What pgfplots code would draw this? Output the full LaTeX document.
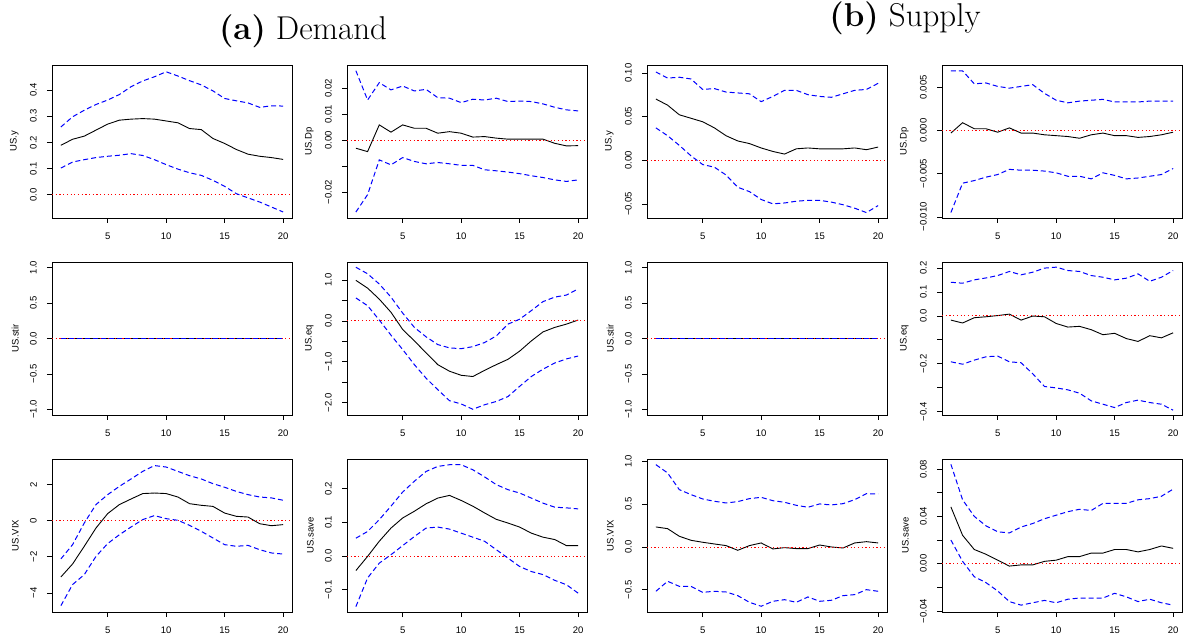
\documentclass[border=0pt]{standalone}
\usepackage{fontspec}
\usepackage{pgfplots}
\usepackage{pgfplotstable}
\pgfplotsset{compat=1.18}
\newfontfamily\arialfont{Liberation Sans}

\pgfplotstableread{
k irf lo up
1 0.189 0.102 0.259
2 0.212 0.125 0.298
3 0.224 0.134 0.323
4 0.247 0.142 0.345
5 0.270 0.147 0.362
6 0.285 0.151 0.383
7 0.289 0.157 0.413
8 0.291 0.150 0.435
9 0.289 0.134 0.451
10 0.282 0.115 0.470
11 0.275 0.098 0.454
12 0.253 0.084 0.436
13 0.249 0.074 0.420
14 0.215 0.055 0.397
15 0.196 0.032 0.368
16 0.173 0.004 0.359
17 0.155 -0.012 0.351
18 0.147 -0.028 0.334
19 0.142 -0.047 0.340
20 0.135 -0.066 0.339
}\tDemY

\pgfplotstableread{
k irf lo up
1 -0.0031 -0.0277 0.0268
2 -0.0044 -0.0210 0.0155
3 0.0059 -0.0076 0.0222
4 0.0031 -0.0095 0.0194
5 0.0059 -0.0067 0.0209
6 0.0046 -0.0082 0.0190
7 0.0046 -0.0091 0.0196
8 0.0027 -0.0086 0.0164
9 0.0033 -0.0091 0.0162
10 0.0027 -0.0097 0.0145
11 0.0012 -0.0097 0.0158
12 0.0014 -0.0114 0.0155
13 0.0008 -0.0118 0.0162
14 0.0004 -0.0123 0.0149
15 0.0004 -0.0129 0.0151
16 0.0004 -0.0137 0.0149
17 0.0004 -0.0144 0.0140
18 -0.0012 -0.0153 0.0127
19 -0.0022 -0.0159 0.0117
20 -0.0021 -0.0153 0.0113
}\tDemDp

\pgfplotstableread{
k irf lo up
1 0 0 0
2 0 0 0
3 0 0 0
4 0 0 0
5 0 0 0
6 0 0 0
7 0 0 0
8 0 0 0
9 0 0 0
10 0 0 0
11 0 0 0
12 0 0 0
13 0 0 0
14 0 0 0
15 0 0 0
16 0 0 0
17 0 0 0
18 0 0 0
19 0 0 0
20 0 0 0
}\tZero

\pgfplotstableread{
k irf lo up
1 0.99 0.56 1.31
2 0.80 0.37 1.15
3 0.53 0.02 0.90
4 0.21 -0.35 0.58
5 -0.21 -0.70 0.19
6 -0.49 -1.07 -0.16
7 -0.78 -1.40 -0.39
8 -1.07 -1.68 -0.58
9 -1.23 -1.95 -0.66
10 -1.33 -2.03 -0.68
11 -1.36 -2.16 -0.63
12 -1.21 -2.05 -0.53
13 -1.07 -1.97 -0.37
14 -0.94 -1.85 -0.08
15 -0.74 -1.60 0.04
16 -0.49 -1.36 0.25
17 -0.27 -1.18 0.47
18 -0.16 -1.03 0.58
19 -0.08 -0.93 0.63
20 0.02 -0.86 0.78
}\tDemEq

\pgfplotstableread{
k irf lo up
1 -3.12 -4.71 -2.12
2 -2.40 -3.54 -1.33
3 -1.42 -2.99 -0.13
4 -0.41 -1.98 0.89
5 0.39 -1.27 1.44
6 0.89 -0.78 1.90
7 1.20 -0.35 2.31
8 1.50 0.06 2.73
9 1.53 0.28 3.05
10 1.50 0.11 2.97
11 1.31 0.02 2.73
12 0.94 -0.26 2.49
13 0.85 -0.59 2.31
14 0.79 -0.96 2.05
15 0.42 -1.33 1.85
16 0.24 -1.42 1.62
17 0.20 -1.37 1.44
18 -0.17 -1.61 1.31
19 -0.28 -1.79 1.26
20 -0.22 -1.85 1.13
}\tDemVix

\pgfplotstableread{
k irf lo up
1 -0.043 -0.150 0.053
2 -0.001 -0.065 0.073
3 0.044 -0.021 0.108
4 0.083 0.004 0.148
5 0.113 0.031 0.190
6 0.133 0.058 0.222
7 0.155 0.083 0.251
8 0.172 0.086 0.266
9 0.180 0.080 0.271
10 0.165 0.068 0.271
11 0.148 0.056 0.256
12 0.128 0.044 0.235
13 0.109 0.019 0.212
14 0.098 -0.006 0.197
15 0.086 -0.031 0.187
16 0.068 -0.046 0.172
17 0.056 -0.055 0.157
18 0.049 -0.072 0.145
19 0.031 -0.085 0.143
20 0.031 -0.110 0.140
}\tDemSave

\pgfplotstableread{
k irf lo up
1 0.070 0.037 0.101
2 0.063 0.028 0.094
3 0.052 0.017 0.095
4 0.048 0.005 0.093
5 0.044 -0.005 0.081
6 0.037 -0.008 0.082
7 0.028 -0.017 0.078
8 0.022 -0.031 0.077
9 0.019 -0.036 0.076
10 0.014 -0.045 0.067
11 0.010 -0.050 0.073
12 0.007 -0.049 0.080
13 0.013 -0.047 0.080
14 0.014 -0.046 0.075
15 0.013 -0.046 0.073
16 0.013 -0.048 0.072
17 0.013 -0.051 0.076
18 0.014 -0.055 0.080
19 0.012 -0.060 0.081
20 0.015 -0.052 0.088
}\tSupY

\pgfplotstableread{
k irf lo up
1 -0.0003 -0.0095 0.0069
2 0.0009 -0.0061 0.0069
3 0.0002 -0.0058 0.0054
4 0.0002 -0.0054 0.0055
5 -0.0002 -0.0051 0.0051
6 0.0003 -0.0045 0.0049
7 -0.0003 -0.0046 0.0051
8 -0.0003 -0.0046 0.0053
9 -0.0005 -0.0047 0.0043
10 -0.0006 -0.0049 0.0035
11 -0.0007 -0.0053 0.0032
12 -0.0009 -0.0053 0.0034
13 -0.0005 -0.0056 0.0035
14 -0.0003 -0.0049 0.0036
15 -0.0006 -0.0052 0.0033
16 -0.0006 -0.0056 0.0033
17 -0.0008 -0.0055 0.0033
18 -0.0007 -0.0053 0.0034
19 -0.0005 -0.0051 0.0034
20 -0.0002 -0.0044 0.0034
}\tSupDp

\pgfplotstableread{
k irf lo up
1 -0.018 -0.192 0.140
2 -0.030 -0.202 0.136
3 -0.008 -0.185 0.150
4 -0.004 -0.171 0.158
5 0.001 -0.168 0.168
6 0.007 -0.192 0.185
7 -0.018 -0.196 0.171
8 -0.001 -0.242 0.182
9 -0.004 -0.295 0.199
10 -0.032 -0.301 0.203
11 -0.047 -0.309 0.189
12 -0.044 -0.323 0.185
13 -0.058 -0.355 0.168
14 -0.079 -0.369 0.161
15 -0.073 -0.383 0.150
16 -0.095 -0.362 0.157
17 -0.107 -0.352 0.175
18 -0.083 -0.362 0.144
19 -0.092 -0.369 0.161
20 -0.071 -0.394 0.189
}\tSupEq

\pgfplotstableread{
k irf lo up
1 0.234 -0.518 0.962
2 0.214 -0.401 0.865
3 0.125 -0.460 0.670
4 0.078 -0.460 0.612
5 0.055 -0.530 0.561
6 0.035 -0.518 0.534
7 0.016 -0.526 0.514
8 -0.039 -0.569 0.530
9 0.016 -0.647 0.565
10 0.047 -0.693 0.580
11 -0.023 -0.635 0.541
12 -0.008 -0.616 0.522
13 -0.019 -0.647 0.487
14 -0.019 -0.584 0.464
15 0.023 -0.635 0.503
16 0.000 -0.623 0.491
17 -0.012 -0.569 0.506
18 0.047 -0.557 0.553
19 0.062 -0.499 0.623
20 0.047 -0.518 0.619
}\tSupVix

\pgfplotstableread{
k irf lo up
1 0.048 0.020 0.084
2 0.024 0.002 0.054
3 0.012 -0.011 0.040
4 0.008 -0.016 0.032
5 0.003 -0.023 0.027
6 -0.002 -0.032 0.026
7 -0.001 -0.035 0.031
8 -0.001 -0.033 0.034
9 0.002 -0.031 0.038
10 0.003 -0.033 0.041
11 0.006 -0.030 0.044
12 0.006 -0.029 0.046
13 0.009 -0.029 0.045
14 0.009 -0.029 0.051
15 0.012 -0.025 0.051
16 0.012 -0.028 0.051
17 0.010 -0.032 0.054
18 0.012 -0.030 0.055
19 0.015 -0.033 0.057
20 0.013 -0.035 0.063
}\tSupSave

\pgfplotsset{
  irf/.style={
    scale only axis, width=240pt, height=153pt,
    xmin=0.24, xmax=20.76,
    xtick={5,10,15,20}, xticklabels={5,10,15,20},
    tick pos=left, tick align=outside, major tick length=5pt,
    scaled ticks=false,
    axis line style={black, line width=0.7pt},
    every tick/.style={black, line width=0.6pt},
    tick label style={font=\arialfont\fontsize{9.5}{11}\selectfont, black},
    yticklabel style={rotate=90, anchor=south, inner sep=0pt},
    xticklabel style={anchor=north, inner sep=0pt},
    yticklabel shift=10pt, xticklabel shift=10pt,
    every axis y label/.style={at={(axis description cs:-0.138,0.5)}, rotate=90, anchor=south, inner sep=0pt, font=\arialfont\fontsize{9.5}{11}\selectfont},
  },
  irfline/.style={black, line width=0.9pt, mark=none},
  bandline/.style={blue, dash pattern=on 5pt off 3pt, line width=1pt, mark=none},
  zeroline/.style={red, dash pattern=on 1.2pt off 2.5pt, line width=0.9pt, mark=none},
}

\newcommand{\irfplots}[1]{%
  \addplot[irfline] table[x=k,y=irf]{#1};
  \addplot[zeroline] coordinates {(0.24,0) (20.76,0)};
  \addplot[bandline] table[x=k,y=lo]{#1};
  \addplot[bandline] table[x=k,y=up]{#1};
}

\begin{document}
\begin{tikzpicture}
\path[use as bounding box] (0pt,0pt) rectangle (1183pt,634pt);

\node[anchor=base, font=\fontsize{33}{38}\selectfont] at (303pt,594pt) {\textbf{(a)} Demand};
\node[anchor=base, font=\fontsize{33}{38}\selectfont] at (905pt,607pt) {\textbf{(b)} Supply};

% ---------- Row 1 ----------
\begin{axis}[irf, at={(52pt,416pt)}, anchor=south west,
  ymin=-0.089, ymax=0.496, ytick={0,0.1,0.2,0.3,0.4},
  yticklabels={0.0,0.1,0.2,0.3,0.4}, ylabel={US.y}]
\irfplots{\tDemY}
\end{axis}

\begin{axis}[irf, at={(347pt,416pt)}, anchor=south west,
  ymin=-0.0300, ymax=0.0290, ytick={-0.02,-0.01,0,0.01,0.02},
  yticklabels={−0.02,{},0.00,0.01,0.02}, ylabel={US.Dp}]
\irfplots{\tDemDp}
\end{axis}

\begin{axis}[irf, at={(647pt,416pt)}, anchor=south west,
  ymin=-0.0662, ymax=0.109, ytick={-0.05,0,0.05,0.10},
  yticklabels={−0.05,0.00,0.05,0.10}, ylabel={US.y}]
\irfplots{\tSupY}
\end{axis}

\begin{axis}[irf, at={(942pt,416pt)}, anchor=south west,
  ymin=-0.01013, ymax=0.00758, ytick={-0.010,-0.005,0,0.005},
  yticklabels={−0.010,−0.005,0.000,0.005}, ylabel={US.Dp}]
\irfplots{\tSupDp}
\end{axis}

% ---------- Row 2 ----------
\begin{axis}[irf, at={(52pt,219pt)}, anchor=south west,
  ymin=-1.08, ymax=1.08, ytick={-1,-0.5,0,0.5,1},
  yticklabels={−1.0,−0.5,0.0,0.5,1.0}, ylabel={US.stir}]
\irfplots{\tZero}
\end{axis}

\begin{axis}[irf, at={(347pt,219pt)}, anchor=south west,
  ymin=-2.30, ymax=1.438, ytick={-2,-1.5,-1,-0.5,0,0.5,1},
  yticklabels={−2.0,{},−1.0,{},0.0,{},1.0}, ylabel={US.eq}]
\irfplots{\tDemEq}
\end{axis}

\begin{axis}[irf, at={(647pt,219pt)}, anchor=south west,
  ymin=-1.08, ymax=1.08, ytick={-1,-0.5,0,0.5,1},
  yticklabels={−1.0,−0.5,0.0,0.5,1.0}, ylabel={US.stir}]
\irfplots{\tZero}
\end{axis}

\begin{axis}[irf, at={(942pt,219pt)}, anchor=south west,
  ymin=-0.414, ymax=0.2246, ytick={-0.4,-0.3,-0.2,-0.1,0,0.1,0.2},
  yticklabels={−0.4,{},−0.2,{},0.0,0.1,0.2}, ylabel={US.eq}]
\irfplots{\tSupEq}
\end{axis}

% ---------- Row 3 ----------
\begin{axis}[irf, at={(52pt,22pt)}, anchor=south west,
  ymin=-5.06, ymax=3.415, ytick={-4,-2,0,2},
  yticklabels={−4,−2,0,2}, ylabel={US.VIX}]
\irfplots{\tDemVix}
\end{axis}

\begin{axis}[irf, at={(347pt,22pt)}, anchor=south west,
  ymin=-0.166, ymax=0.288, ytick={-0.1,0,0.1,0.2},
  yticklabels={−0.1,0.0,0.1,0.2}, ylabel={US.save}]
\irfplots{\tDemSave}
\end{axis}

\begin{axis}[irf, at={(647pt,22pt)}, anchor=south west,
  ymin=-0.760, ymax=1.028, ytick={-0.5,0,0.5,1},
  yticklabels={−0.5,0.0,0.5,1.0}, ylabel={US.VIX}]
\irfplots{\tSupVix}
\end{axis}

\begin{axis}[irf, at={(942pt,22pt)}, anchor=south west,
  ymin=-0.0408, ymax=0.0885, ytick={-0.04,-0.02,0,0.02,0.04,0.06,0.08},
  yticklabels={−0.04,{},0.00,{},0.04,{},0.08}, ylabel={US.save}]
\irfplots{\tSupSave}
\end{axis}
\end{tikzpicture}
\end{document}
